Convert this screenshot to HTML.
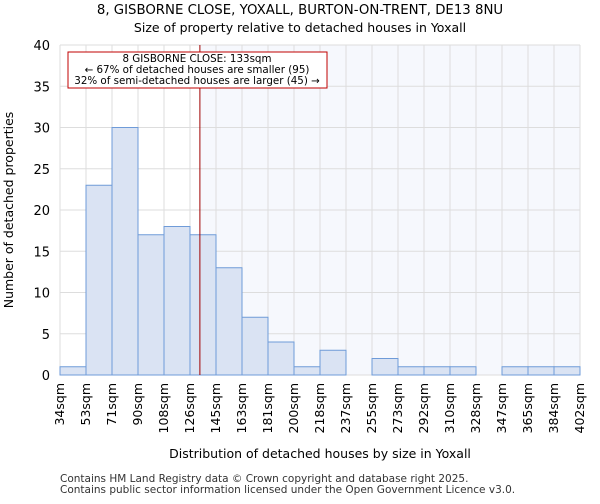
<!DOCTYPE html>
<html><head><meta charset="utf-8"><style>
body{margin:0;background:#fff;font-family:"DejaVu Sans","Liberation Sans",sans-serif;}
</style></head><body>
<svg width="600" height="500" xmlns="http://www.w3.org/2000/svg" font-family="DejaVu Sans, Liberation Sans, sans-serif">
<text x="300" y="14" text-anchor="middle" font-size="13.3">8, GISBORNE CLOSE, YOXALL, BURTON-ON-TRENT, DE13 8NU</text>
<text x="300" y="32" text-anchor="middle" font-size="12.5">Size of property relative to detached houses in Yoxall</text>
<g id="grid"></g><g id="bars"></g><g id="axes"></g>
<text x="320" y="458" text-anchor="middle" font-size="12.5">Distribution of detached houses by size in Yoxall</text>
<text transform="translate(13,210) rotate(-90)" text-anchor="middle" font-size="12.5">Number of detached properties</text>
<text x="60" y="482" font-size="10.5" fill="#333">Contains HM Land Registry data © Crown copyright and database right 2025.</text>
<text x="60" y="493" font-size="10.5" fill="#333">Contains public sector information licensed under the Open Government Licence v3.0.</text>
</svg>
<script>
const categories=["34sqm","53sqm","71sqm","90sqm","108sqm","126sqm","145sqm","163sqm","181sqm","200sqm","218sqm","237sqm","255sqm","273sqm","292sqm","310sqm","328sqm","347sqm","365sqm","384sqm","402sqm"];
const values=[1,23,30,17,18,17,13,7,4,1,3,0,2,1,1,1,0,1,1,1];
const yTicks=[0,5,10,15,20,25,30,35,40];
const binStart=34, binEnd=402;
const propertySize=133;
const NS="http://www.w3.org/2000/svg";
const X0=60,X1=580,Y0=375,Y1=45;
const n=values.length, bw=(X1-X0)/n;
const xs=i=>X0+i*bw;
const ys=v=>Y0-(v/40)*(Y0-Y1);
const xv=v=>X0+(v-binStart)/(binEnd-binStart)*(X1-X0);
function mk(t,a,p){const e=document.createElementNS(NS,t);for(const k in a)e.setAttribute(k,a[k]);p.appendChild(e);return e;}
const grid=document.getElementById('grid'),bars=document.getElementById('bars'),axes=document.getElementById('axes');
const shade=mk('rect',{x:xv(propertySize),y:Y1,width:X1-xv(propertySize),height:Y0-Y1,fill:'#f6f8fd'},grid);


yTicks.forEach(t=>{
 const l=mk('line',{x1:X0,x2:X1,y1:ys(t),y2:ys(t),stroke:'#ddd'},grid);
 
 
 const tx=mk('text',{x:X0-10,y:ys(t)+5,'text-anchor':'end','font-size':13},axes);
 tx.textContent=t;
 
 
});
categories.forEach((c,i)=>{
 const x=xs(i);
 const l=mk('line',{x1:x,x2:x,y1:Y1,y2:Y0,stroke:'#ddd'},grid);
 
 
 const tx=mk('text',{transform:`translate(${x+4},${Y0+8}) rotate(-90)`,'text-anchor':'end','font-size':12.5},axes);
 tx.textContent=c;
 
 
});
values.forEach((v,i)=>{
 if(v<=0)return;
 const r=mk('rect',{x:xs(i),y:ys(v),width:bw,height:Y0-ys(v),fill:'#dae3f3',stroke:'#6f9bd8','stroke-width':1},bars);
 
 
});
const px=xv(propertySize);
const pl=mk('line',{x1:px,x2:px,y1:Y1,y2:Y0,stroke:'#a00000','stroke-width':1},axes);


const box=mk('rect',{x:68,y:52,width:259,height:36,fill:'#fff',stroke:'#c00000','stroke-width':1},axes);


["8 GISBORNE CLOSE: 133sqm","← 67% of detached houses are smaller (95)","32% of semi-detached houses are larger (45) →"].forEach((s,i)=>{
 const t=mk('text',{x:197,y:62+i*11,'text-anchor':'middle','font-size':10.3},axes);
 t.textContent=s;
 
 
});
</script>
</body></html>
